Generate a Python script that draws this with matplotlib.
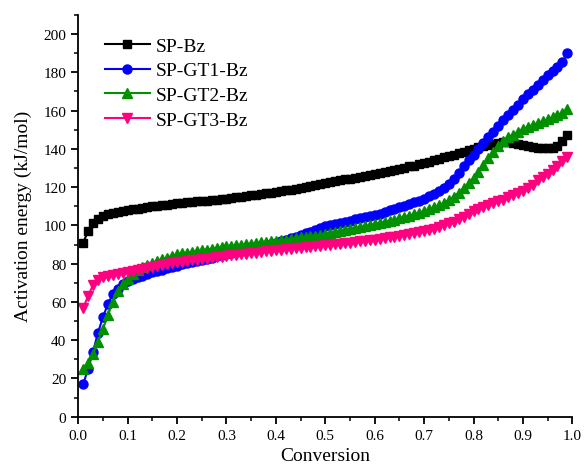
import numpy as np
import matplotlib
matplotlib.use("Agg")
import matplotlib.pyplot as plt
from matplotlib.ticker import MultipleLocator

conversion = [round(0.01 * i, 2) for i in range(1, 100)]

sp_bz = [91, 97, 101.5, 103.5, 105, 105.8, 106.5, 107, 107.5, 108,
         108.4, 108.8, 109.2, 109.6, 110, 110.3, 110.6, 110.9, 111.2, 111.5,
         111.75, 112, 112.25, 112.5, 112.75, 113, 113.25, 113.5, 113.75, 114,
         114.35, 114.7, 115.05, 115.4, 115.75, 116.1, 116.45, 116.8, 117.15, 117.5,
         117.9, 118.3, 118.7, 119.1, 119.5, 120, 120.5, 121, 121.5, 122,
         122.5, 123, 123.5, 124, 124.5, 125, 125.5, 126, 126.5, 127,
         127.5, 128, 128.6, 129.1, 129.7, 130.2, 130.8, 131.3, 131.9, 132.5,
         133.2, 134, 134.7, 135.5, 136.2, 137, 137.7, 138.5, 139.2, 140,
         140.8, 141.5, 142.2, 142.8, 143.3, 143.5, 143.4, 143, 142.5, 142,
         141.5, 141, 140.6, 140.4, 140.3, 140.5, 141.5, 144, 147]

sp_gt1_bz = [17, 25, 34, 44, 52, 59, 64, 67, 69.5, 71,
             72, 73, 73.8, 74.6, 75.4, 76.1, 76.8, 77.5, 78.2, 79,
             79.6, 80.2, 80.8, 81.4, 82, 82.6, 83.2, 83.8, 84.4, 85,
             85.6, 86.2, 86.8, 87.4, 88, 88.6, 89.2, 89.8, 90.4, 91,
             91.8, 92.6, 93.4, 94.2, 95, 95.9, 96.8, 97.7, 98.6, 99.5,
             100.1, 100.7, 101.3, 101.9, 102.5, 103.1, 103.7, 104.3, 104.9, 105.5,
             106.2, 107, 107.8, 108.6, 109.4, 110.2, 111, 112, 113, 114,
             115.2, 116.5, 118, 119.6, 121.5, 124, 127.5, 131, 134, 137,
             140, 143, 146, 149, 152, 155, 157.8, 160.5, 163.2, 166,
             168.5, 171, 173.5, 176, 178.5, 180.5, 183, 185.5, 190]

sp_gt2_bz = [25, 28, 33, 39, 46, 53, 60, 65.5, 69.5, 72,
             74.5, 76.5, 78, 79.3, 80.5, 81.5, 82.4, 83.2, 84, 85,
             85.4, 85.8, 86.2, 86.6, 87, 87.4, 87.8, 88.2, 88.6, 89,
             89.3, 89.6, 89.9, 90.2, 90.5, 90.8, 91.1, 91.4, 91.7, 92,
             92.3, 92.6, 93, 93.3, 93.7, 94, 94.4, 94.7, 95.1, 95.5,
             96, 96.5, 97, 97.5, 98, 98.5, 99, 99.5, 100, 100.5,
             101.1, 101.7, 102.3, 103, 103.7, 104.4, 105.1, 105.9, 106.7, 107.5,
             108.4, 109.4, 110.5, 111.8, 113.3, 115, 117, 119.5, 122, 125,
             128, 131.5, 135, 138.5, 141.5, 144, 146, 147.5, 149, 150.5,
             151.5, 152.5, 153.5, 154.5, 155.5, 156.5, 157.5, 159, 161]

sp_gt3_bz = [57, 63, 69, 71.5, 72.8, 73.6, 74.2, 74.8, 75.3, 75.8,
             76.3, 76.8, 77.3, 77.8, 78.3, 78.8, 79.3, 79.8, 80.3, 80.8,
             81.1, 81.5, 81.8, 82.1, 82.4, 82.7, 83, 83.3, 83.7, 84,
             84.3, 84.6, 84.9, 85.2, 85.5, 85.8, 86.1, 86.4, 86.7, 87,
             87.2, 87.5, 87.7, 88, 88.2, 88.5, 88.7, 89, 89.2, 89.5,
             89.8, 90.1, 90.4, 90.7, 91, 91.3, 91.6, 91.9, 92.2, 92.5,
             92.9, 93.3, 93.7, 94.1, 94.6, 95, 95.5, 96, 96.5, 97,
             97.6, 98.3, 99.1, 100, 101, 102, 103.2, 104.5, 106, 107.5,
             108.5, 109.5, 110.5, 111.5, 112.5, 113.5, 114.6, 115.7, 116.8, 118,
             119.5, 121, 123.5, 125.5, 127, 128.8, 131, 133.5, 136]

labels = ["SP-Bz", "SP-GT1-Bz", "SP-GT2-Bz", "SP-GT3-Bz"]

plt.rcParams['font.family'] = ['Liberation Serif', 'DejaVu Serif']

fig = plt.figure(figsize=(5.84, 4.77), dpi=100)
ax = fig.add_axes([0.134, 0.1243, 0.846, 0.8422])

series = [
    (sp_bz, 'black', 's', 6),
    (sp_gt1_bz, '#0000FF', 'o', 6.5),
    (sp_gt2_bz, '#009000', '^', 7),
    (sp_gt3_bz, '#FF0080', 'v', 7),
]
for (vals, color, marker, ms), lab in zip(series, labels):
    ax.plot(conversion, vals, color=color, marker=marker, markersize=ms,
            linewidth=1.5, label=lab)

ax.set_xlim(0, 1.0)
ax.set_ylim(0, 210)
ax.xaxis.set_major_locator(MultipleLocator(0.1))
ax.xaxis.set_minor_locator(MultipleLocator(0.05))
ax.yaxis.set_major_locator(MultipleLocator(20))
ax.yaxis.set_minor_locator(MultipleLocator(10))
ax.set_yticks(np.arange(0, 201, 20))
ax.xaxis.set_major_formatter(matplotlib.ticker.FormatStrFormatter('%.1f'))

for s in ['top', 'right']:
    ax.spines[s].set_visible(False)
for s in ['left', 'bottom']:
    ax.spines[s].set_linewidth(1.3)

ax.tick_params(which='major', direction='out', length=5, width=1.3, labelsize=11)
ax.tick_params(which='minor', direction='out', length=3, width=1.1)

ax.set_xlabel('Conversion', fontsize=14, labelpad=4)
ax.set_ylabel('Activation energy (kJ/mol)', fontsize=14, labelpad=8)

ax.legend(loc='upper left', bbox_to_anchor=(0.054, 0.945), frameon=False,
          fontsize=14, borderpad=0, borderaxespad=0, handlelength=2.3,
          handletextpad=0.3, labelspacing=0.37, numpoints=1)

fig.savefig('out.png', dpi=100)
